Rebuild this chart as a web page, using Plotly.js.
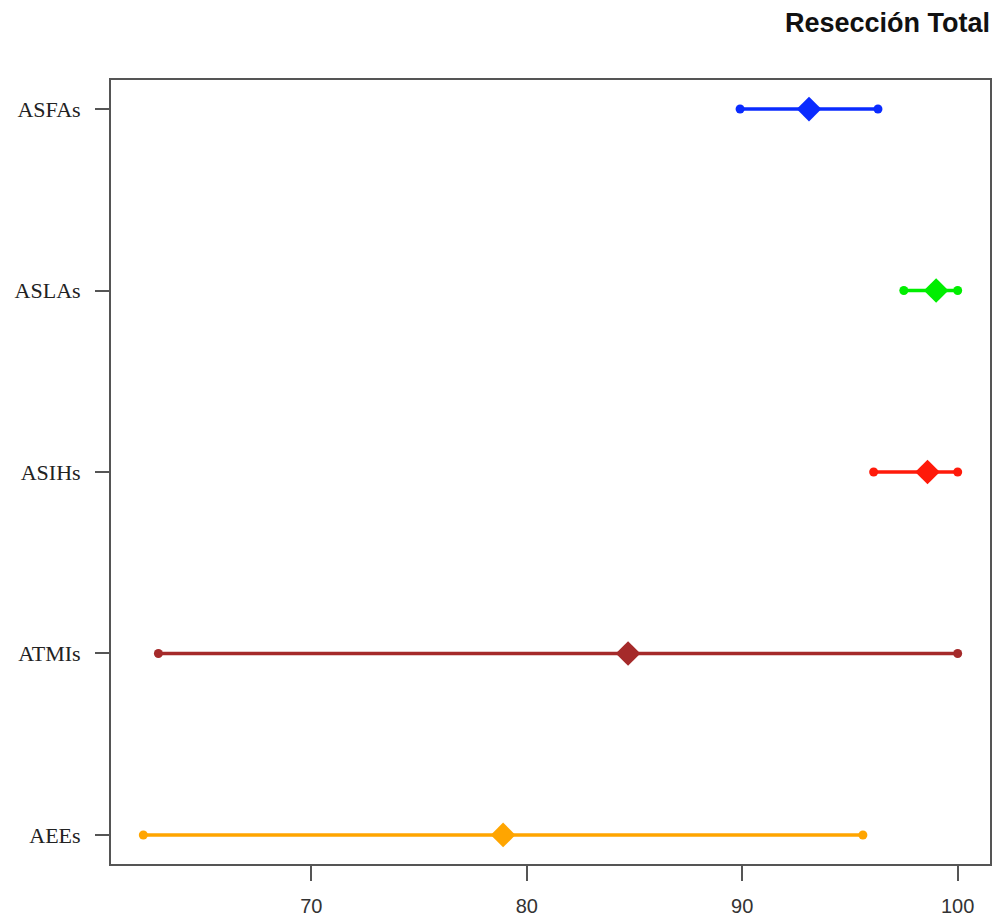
<!DOCTYPE html>
<html>
<head>
<meta charset="utf-8">
<script src="https://cdn.plot.ly/plotly-3.0.1.min.js"></script>
<style>html,body{margin:0;padding:0;background:#fff;}#chart{width:995px;height:921px;}</style>
</head>
<body>
<div id="chart"></div>
<script>
// Categories, bottom to top
const categories = ["AEEs", "ATMIs", "ASIHs", "ASLAs", "ASFAs"];
const lowerValues = [62.2, 62.9, 96.1, 97.5, 89.9];
const centerValues = [78.9, 84.7, 98.6, 99.0, 93.1];
const upperValues = [95.6, 100.0, 100.0, 100.0, 96.3];
const seriesColors = ["#ffa500", "#a52a2a", "#ff1a0a", "#00ee00", "#0a2bff"];
const xTickValues = [70, 80, 90, 100];
const xTickLabels = ["70", "80", "90", "100"];

const traces = categories.map((c, i) => ({
  type: "scatter",
  mode: "lines+markers",
  x: [lowerValues[i], centerValues[i], upperValues[i]],
  y: [i + 1, i + 1, i + 1],
  name: c,
  line: {color: seriesColors[i], width: 3.5},
  marker: {
    color: seriesColors[i],
    opacity: 1,
    symbol: ["circle", "diamond", "circle"],
    size: [9, 19, 9],
    line: {width: 0}
  },
  hoverinfo: "x+name"
}));

const layout = {
  width: 995,
  height: 921,
  margin: {l: 111, r: 5, t: 80, b: 57},
  paper_bgcolor: "#fff",
  plot_bgcolor: "#fff",
  showlegend: false,
  title: {
    text: "<b>Resección Total</b>",
    font: {family: "Liberation Sans, Arial, sans-serif", size: 27, color: "#111"},
    xref: "paper", x: 1, xanchor: "right",
    yref: "container", y: 0.986, yanchor: "top"
  },
  xaxis: {
    range: [60.7, 101.5],
    tickvals: xTickValues,
    ticktext: xTickLabels,
    ticks: "outside",
    ticklen: 15,
    tickwidth: 2,
    tickcolor: "#555",
    ticklabelstandoff: 8,
    showline: true,
    linecolor: "#555",
    linewidth: 2,
    mirror: true,
    showgrid: false,
    zeroline: false,
    tickfont: {family: "Liberation Sans, Arial, sans-serif", size: 20, color: "#333"}
  },
  yaxis: {
    range: [0.84, 5.16],
    tickvals: categories.map((c, i) => i + 1),
    ticktext: categories,
    ticks: "outside",
    ticklen: 14,
    tickwidth: 2,
    tickcolor: "#555",
    ticklabelstandoff: 10,
    showline: true,
    linecolor: "#555",
    linewidth: 2,
    mirror: true,
    showgrid: false,
    zeroline: false,
    tickfont: {family: "Liberation Serif, Times New Roman, serif", size: 22, color: "#222"}
  }
};

Plotly.newPlot("chart", traces, layout, {displayModeBar: false, staticPlot: true});
</script>
</body>
</html>
